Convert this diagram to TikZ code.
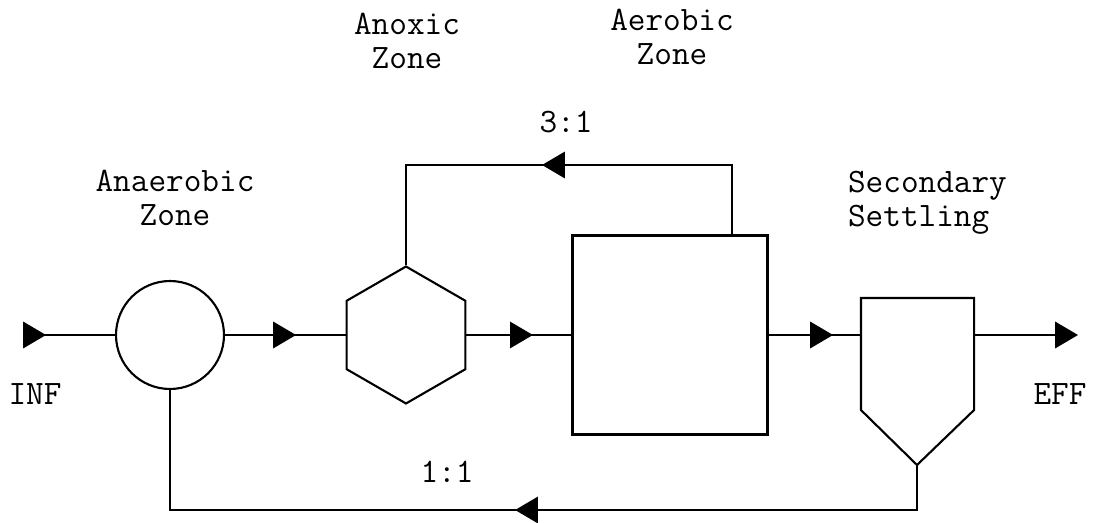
\documentclass[tikz,border=0pt]{standalone}
\usepackage{fontspec}
\usetikzlibrary{arrows.meta,decorations.markings,shapes.geometric}

\begin{document}
\begin{tikzpicture}[x=0.02cm,y=-0.02cm,line width=1.2pt,
	txt/.style={font=\ttfamily\fontsize{19.5}{19.5}\selectfont,align=center,inner sep=0pt},
	tri/.style={postaction={decorate,decoration={markings,
		mark=at position #1 with {\arrow{Triangle[length=13pt,width=15pt]}}}}}]
	\useasboundingbox (0,0) rectangle (1101,523);
	\node[draw, circle, minimum size=2.16cm, inner sep=0pt] (AN) at (170,335) {};%
	\node[draw, regular polygon, regular polygon sides=6, shape border rotate=30,
	minimum size=2.74cm, inner sep=0pt] (AX) at (406,335) {};%
	\node[draw, rectangle, minimum width=3.9cm, minimum height=3.98cm, inner sep=0pt] (AE) at (670,335) {};
	\node[rectangle, minimum width=2.22cm, minimum height=2.2cm, inner sep=0pt] (S) at (917.5,354) {};
	\coordinate (ST) at (917,465);
	\draw (S.south west) -- (S.north west) -- (S.north east) -- (S.south east) -- (ST) -- cycle;
	
	\node[txt] (TAN) at (175,198) {Anaerobic\\Zone};
	\node[txt] (TAX) at (407,41) {Anoxic\\Zone};
	\node[txt] (TAE) at (672,37) {Aerobic\\Zone};
	\node[txt, align=left, anchor=west] (TS) at (847,203) {Secondary\\Settling};
	\node[txt] (TIN) at (35,394) {INF};
	\node[txt] (TOUT) at (1060,394) {EFF};
	\node[txt] (T31) at (566,122) {3:1};
	\node[txt] (T11) at (447,472) {1:1};
	
	\coordinate (IN) at (23,335);
	\coordinate (OUT) at (1078,335);
	\coordinate (R3) at (732,165);
	\coordinate (R1) at (170,510);
	\draw[tri=0.46cm] (IN) -- (AN);
	\draw[tri=1.42cm] (AN) -- (AX);
	\draw[tri=1.33cm] (AX) -- (AE);
	\draw[tri=1.29cm] (AE) -- (AE -| S.west);
	\draw[-{Triangle[length=13pt,width=15pt]}] (AE -| S.east) -- (OUT);
	\draw[tri=5.19cm] (AE.north -| R3) -- (R3) -| (AX);
	\draw[tri=8.94cm] (ST) |- (R1) -- (AN);
\end{tikzpicture}
\end{document}
